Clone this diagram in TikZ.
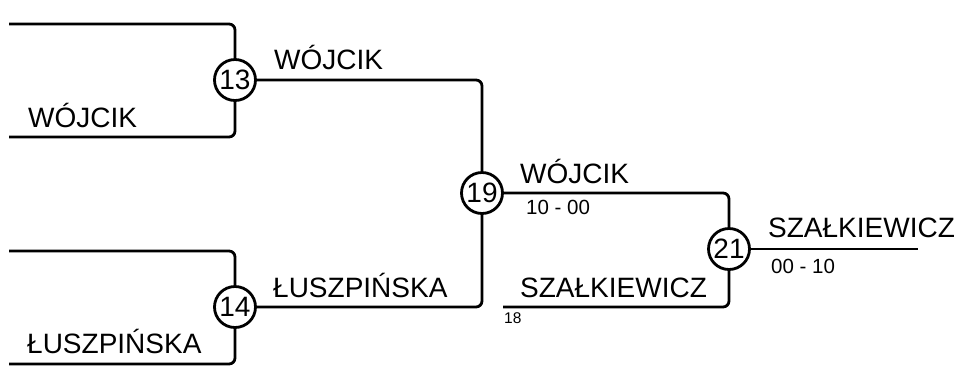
\documentclass[tikz,border=0pt]{standalone}
\usepackage{fontspec}
\setmainfont{Liberation Sans}
\begin{document}
\begin{tikzpicture}[x=1pt,y=-1pt,
  conn/.style={line width=2.8pt,rounded corners=6pt},
  matchnode/.style={circle,draw,line width=2.8pt,fill=white,minimum size=41pt,inner sep=0pt,font=\fontsize{28}{30}\selectfont},
  player/.style={anchor=base west,inner sep=0pt,font=\fontsize{28}{30}\selectfont},
  scoretxt/.style={anchor=base west,inner sep=0pt,font=\fontsize{20.5}{22}\selectfont},
  seedtxt/.style={anchor=base west,inner sep=0pt,font=\fontsize{15.5}{17}\selectfont}]
\useasboundingbox (0,0) rectangle (966,368);
% match circles
\node[matchnode] (m13) at (235,80) {13};
\node[matchnode] (m14) at (235,307) {14};
\node[matchnode] (m19) at (482,193) {19};
\node[matchnode] (m21) at (729,249) {21};
% free ends
\coordinate (a13) at (9,24);
\coordinate (b13) at (9,137);
\coordinate (a14) at (9,251);
\coordinate (b14) at (9,364);
\coordinate (b21) at (503,307);
\coordinate (w21) at (918,249);
% connectors
\draw[conn] (a13) -| (m13);
\draw[conn] (b13) -| (m13);
\draw[conn] (a14) -| (m14);
\draw[conn] (b14) -| (m14);
\draw[conn] (m13) -| (m19);
\draw[conn] (m14) -| (m19);
\draw[conn] (m19) -| (m21);
\draw[conn] (b21) -| (m21);
\draw[conn] (m21) -- (w21);
% labels
\node[player] (t1) at (28,127) {WÓJCIK};
\node[player] (t2) at (274,69) {WÓJCIK};
\node[player] (t3) at (273,297) {ŁUSZPIŃSKA};
\node[player] (t4) at (27,353) {ŁUSZPIŃSKA};
\node[player] (t5) at (520,183) {WÓJCIK};
\node[scoretxt] (s1) at (526,214) {10 - 00};
\node[player] (t6) at (520,297) {SZAŁKIEWICZ};
\node[seedtxt] (s2) at (504,323) {18};
\node[player] (t7) at (768,237) {SZAŁKIEWICZ};
\node[scoretxt] (s3) at (771,273) {00 - 10};
\end{tikzpicture}
\end{document}
